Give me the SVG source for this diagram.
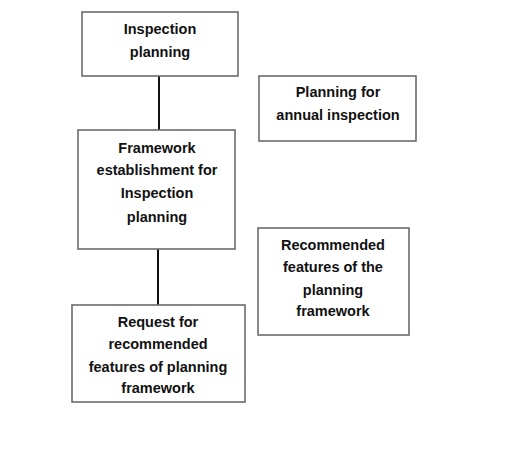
<svg xmlns="http://www.w3.org/2000/svg" width="526" height="472" viewBox="0 0 526 472">
<style>
.box{fill:#ffffff;stroke:#6b6b6b;stroke-width:1.6}
.conn{stroke:#111111;stroke-width:2;fill:none}
text{font-family:"Liberation Sans",Arial,sans-serif;font-weight:bold;font-size:14.5px;fill:#111111;text-anchor:middle}
</style>
<rect x="0" y="0" width="526" height="472" fill="#ffffff"/>
<g id="connectors">
<line class="conn" x1="159" y1="76" x2="159" y2="130"/>
<line class="conn" x1="158" y1="249" x2="158" y2="305"/>
</g>
<g id="inspection-planning">
<rect class="box" x="82" y="12" width="156" height="64"/>
<text x="160" y="34">Inspection</text>
<text x="160" y="57">planning</text>
</g>
<g id="annual-inspection">
<rect class="box" x="259" y="76" width="157" height="65"/>
<text x="338" y="97">Planning for</text>
<text x="338" y="120">annual inspection</text>
</g>
<g id="framework-establishment">
<rect class="box" x="78" y="130" width="157" height="119"/>
<text x="157" y="153">Framework</text>
<text x="157" y="175">establishment for</text>
<text x="157" y="198">Inspection</text>
<text x="157" y="222">planning</text>
</g>
<g id="request-features">
<rect class="box" x="72" y="305" width="173" height="97"/>
<text x="158" y="327">Request for</text>
<text x="158" y="349">recommended</text>
<text x="158" y="372">features of planning</text>
<text x="158" y="393">framework</text>
</g>
<g id="recommended-features">
<rect class="box" x="258" y="228" width="151" height="107"/>
<text x="333" y="250">Recommended</text>
<text x="333" y="272">features of the</text>
<text x="333" y="295">planning</text>
<text x="333" y="316">framework</text>
</g>
</svg>
